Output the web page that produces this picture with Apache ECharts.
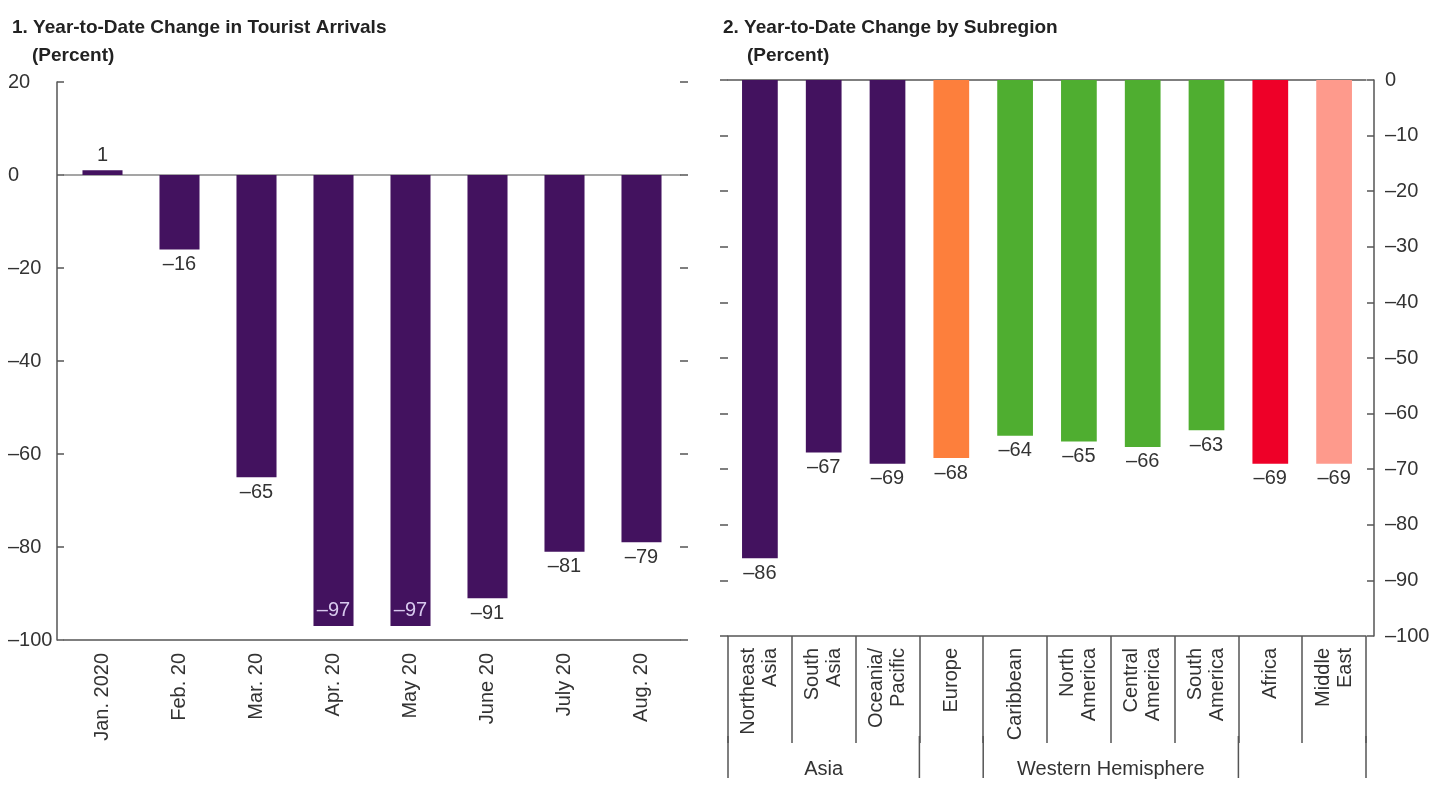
<!DOCTYPE html>
<html>
<head>
<meta charset="utf-8">
<script src="https://cdn.jsdelivr.net/npm/echarts@6/dist/echarts.min.js"></script>
<style>
  html, body { margin: 0; padding: 0; background: #fff; }
  #box { width: 1438px; height: 785px; }
</style>
</head>
<body>
<div id="box"></div>
<script>
// panel 1 data
const months = ['Jan. 2020', 'Feb. 20', 'Mar. 20', 'Apr. 20', 'May 20', 'June 20', 'July 20', 'Aug. 20'];
const arrivalsChange = [1, -16, -65, -97, -97, -91, -81, -79];
const monthTicks = [-100, -80, -60, -40, -20, 0, 20];

// panel 2 data
const regions = ['Northeast\nAsia', 'South\nAsia', 'Oceania/\nPacific', 'Europe', 'Caribbean',
  'North\nAmerica', 'Central\nAmerica', 'South\nAmerica', 'Africa', 'Middle\nEast'];
const regionChange = [-86, -67, -69, -68, -64, -65, -66, -63, -69, -69];
const regionTicks = [-100, -90, -80, -70, -60, -50, -40, -30, -20, -10, 0];
// group brackets under the axis (boundary indexes between categories)
const groupNames = ['Asia', 'Western Hemisphere'];
const groupFrom = [0, 4];
const groupTo = [3, 8];
const groupBounds = [0, 3, 4, 8, 10];

// styles
const purple = '#43125f';
const regionColors = [purple, purple, purple, '#fd7f3c', '#4fae30', '#4fae30', '#4fae30', '#4fae30', '#ee0028', '#fe9a8c'];
const font = 'Liberation Sans, Arial, sans-serif';
const txt = '#333';
const axisCol = '#555';

const dash = v => (v < 0 ? '\u2013' + (-v) : '' + v);

let box = document.getElementById('box');
let myeCharts = echarts.init(box, null, {renderer: 'canvas'});

const titleStyle = {fontSize: 19, fontWeight: 'bold', color: '#222', fontFamily: font};

const option = {
  animation: false,
  textStyle: {fontFamily: font},
  title: [
    {text: '1. Year-to-Date Change in Tourist Arrivals', left: 7, top: 13, textStyle: titleStyle},
    {text: '(Percent)', left: 27, top: 41, textStyle: titleStyle},
    {text: '2. Year-to-Date Change by Subregion', left: 718, top: 13, textStyle: titleStyle},
    {text: '(Percent)', left: 742, top: 41, textStyle: titleStyle}
  ],
  grid: [
    {left: 64, right: 758, top: 82, bottom: 145},
    {left: 728, right: 72, top: 80, bottom: 149}
  ],
  xAxis: [
    {
      gridIndex: 0, type: 'category', data: months, position: 'bottom',
      axisLine: {onZero: false, lineStyle: {color: axisCol, width: 1.5}},
      axisTick: {inside: true, length: 10, interval: 0, lineStyle: {color: axisCol, width: 1.5}},
      axisLabel: {rotate: 90, margin: 13, interval: 0, fontSize: 20, color: txt}
    },
    {
      gridIndex: 0, type: 'category', data: months, position: 'top',
      axisLine: {onZero: true, lineStyle: {color: '#888', width: 1.5}},
      axisTick: {show: false}, axisLabel: {show: false}
    },
    {
      gridIndex: 1, type: 'category', data: regions, position: 'bottom',
      axisLine: {onZero: false, lineStyle: {color: axisCol, width: 1.5}},
      axisTick: {show: true, inside: false, length: 107, interval: 0, lineStyle: {color: axisCol, width: 1.5}},
      axisLabel: {rotate: 90, margin: 12, interval: 0, fontSize: 20, lineHeight: 22, color: txt}
    },
    {
      gridIndex: 1, type: 'category', data: regions, position: 'top',
      axisLine: {onZero: false, lineStyle: {color: axisCol, width: 1.5}},
      axisTick: {show: false}, axisLabel: {show: false}
    }
  ],
  yAxis: [
    {
      gridIndex: 0, type: 'value', position: 'left', offset: 7,
      min: monthTicks[0], max: monthTicks[monthTicks.length - 1], interval: 20,
      splitLine: {show: false},
      axisLine: {show: true, lineStyle: {color: axisCol, width: 1.5}},
      axisTick: {show: true, inside: true, length: 7, lineStyle: {color: axisCol, width: 1.5}},
      axisLabel: {align: 'left', margin: 49, fontSize: 20, color: txt, formatter: dash}
    },
    {
      gridIndex: 0, type: 'value', position: 'right',
      min: monthTicks[0], max: monthTicks[monthTicks.length - 1], interval: 20,
      splitLine: {show: false}, axisLine: {show: false},
      axisTick: {show: true, length: 8, lineStyle: {color: axisCol, width: 1.5}},
      axisLabel: {show: false}
    },
    {
      gridIndex: 1, type: 'value', position: 'right', offset: 8,
      min: regionTicks[0], max: regionTicks[regionTicks.length - 1], interval: 10,
      splitLine: {show: false},
      axisLine: {show: true, lineStyle: {color: axisCol, width: 1.5}},
      axisTick: {show: true, inside: true, length: 7, lineStyle: {color: axisCol, width: 1.5}},
      axisLabel: {margin: 11, fontSize: 20, color: txt, formatter: dash}
    },
    {
      gridIndex: 1, type: 'value', position: 'left',
      min: regionTicks[0], max: regionTicks[regionTicks.length - 1], interval: 10,
      splitLine: {show: false}, axisLine: {show: false},
      axisTick: {show: true, length: 8, lineStyle: {color: axisCol, width: 1.5}},
      axisLabel: {show: false}
    }
  ],
  series: [
    {
      type: 'bar', xAxisIndex: 0, yAxisIndex: 0, barWidth: '52%',
      itemStyle: {color: purple},
      label: {show: true, fontSize: 20, color: txt, distance: 5, formatter: p => dash(p.value)},
      data: arrivalsChange.map(v => {
        if (v >= 0) return {value: v, label: {position: 'top'}};
        if (v <= -95) return {value: v, label: {position: 'insideBottom', color: '#d8c9ee', distance: 6}};
        return {value: v, label: {position: 'bottom'}};
      })
    },
    {
      type: 'bar', xAxisIndex: 2, yAxisIndex: 2, barWidth: '56%',
      label: {show: true, position: 'bottom', fontSize: 20, color: txt, distance: 5, formatter: p => dash(p.value)},
      data: regionChange.map((v, i) => ({value: v, itemStyle: {color: regionColors[i]}}))
    }
  ]
};
myeCharts.setOption(option);

// group brackets below panel 2, placed from the category axis scale
const c0 = myeCharts.convertToPixel({xAxisIndex: 2}, regions[0]);
const c1 = myeCharts.convertToPixel({xAxisIndex: 2}, regions[1]);
const bw = c1 - c0;
const yBase = myeCharts.convertToPixel({yAxisIndex: 2}, regionTicks[0]);
const bx = b => c0 - bw / 2 + b * bw;
const graphics = [];
groupBounds.forEach(b => {
  graphics.push({
    type: 'line', silent: true,
    shape: {x1: bx(b), y1: yBase + 100, x2: bx(b), y2: yBase + 142},
    style: {stroke: axisCol, lineWidth: 1.5}
  });
});
groupNames.forEach((n, i) => {
  graphics.push({
    type: 'text', silent: true,
    x: (bx(groupFrom[i]) + bx(groupTo[i])) / 2, y: yBase + 133,
    style: {text: n, fontSize: 20, fill: txt, fontFamily: font, align: 'center', verticalAlign: 'middle'}
  });
});
myeCharts.setOption({graphic: graphics});
</script>
</body>
</html>
